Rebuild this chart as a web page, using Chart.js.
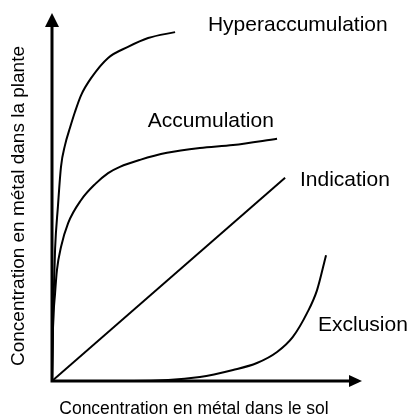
<!DOCTYPE html>
<html>
<head>
<meta charset="utf-8">
<script src="https://cdn.jsdelivr.net/npm/chart.js@4.4.1/dist/chart.umd.min.js"></script>
<style>
  html, body { margin: 0; padding: 0; background: #fff; }
</style>
</head>
<body>
<canvas id="chart" width="414" height="416"></canvas>
<script>
// values (arbitrary units, 0..100 on both axes)
const hyperX = [0, 0.5, 1.0, 1.9, 2.9, 4.2, 5.8, 7.4, 9.4, 12.6, 18.1, 24.5, 31.0, 39.7];
const hyperY = [0, 22, 36, 47.3, 58.2, 64.1, 68.8, 73.1, 77.7, 82.3, 87.8, 90.8, 93.2, 94.8];

const accumX = [0, 0.3, 1.0, 1.6, 2.9, 5.2, 9.4, 13.9, 18.1, 21.9, 28.4, 37.1, 47.7, 58.4, 72.6];
const accumY = [0, 13.9, 23.9, 30.2, 36.4, 42.9, 49.2, 53.5, 56.5, 58.2, 60.1, 62.0, 63.3, 64.1, 65.8];

const indicX = [0, 75.2];
const indicY = [0, 55.2];

const exclX = [0, 26.1, 47.7, 58.4, 66.1, 72.6, 77.7, 82.3, 85.5, 88.4];
const exclY = [0, 0, 1.1, 3.0, 4.9, 7.9, 12.0, 18.5, 24.7, 34.2];

const curveNames = ["Hyperaccumulation", "Accumulation", "Indication", "Exclusion"];
const xTitle = "Concentration en métal dans le sol";
const yTitle = "Concentration en métal dans la plante";

const toPoints = (xs, ys) => xs.map((x, i) => ({ x: x, y: ys[i] }));

const curve = (name, xs, ys) => ({
    label: name,
    data: toPoints(xs, ys),
    showLine: true,
    borderColor: "#000",
    borderWidth: 2,
    pointRadius: 0,
    cubicInterpolationMode: "monotone",
    fill: false,
});

// axes with arrow heads + curve labels + axis titles
const sketchPlugin = {
    id: "sketch",
    afterDatasetsDraw(chart) {
        const ctx = chart.ctx;
        const xs = chart.scales.x, ys = chart.scales.y;
        const x0 = xs.getPixelForValue(0), y0 = ys.getPixelForValue(0);
        const xEnd = xs.getPixelForValue(100), yEnd = ys.getPixelForValue(100);
        ctx.save();
        ctx.strokeStyle = "#000";
        ctx.fillStyle = "#000";
        ctx.lineWidth = 3;
        ctx.lineCap = "butt";
        ctx.beginPath();
        ctx.moveTo(x0, y0 + 1.5);
        ctx.lineTo(x0, yEnd + 12);
        ctx.moveTo(x0 - 1.5, y0);
        ctx.lineTo(xEnd - 12, y0);
        ctx.stroke();
        // y arrow
        ctx.beginPath();
        ctx.moveTo(x0, yEnd);
        ctx.lineTo(x0 - 7, yEnd + 14);
        ctx.lineTo(x0 + 7, yEnd + 14);
        ctx.closePath();
        ctx.fill();
        // x arrow
        ctx.beginPath();
        ctx.moveTo(xEnd, y0);
        ctx.lineTo(xEnd - 13, y0 - 6);
        ctx.lineTo(xEnd - 13, y0 + 6);
        ctx.closePath();
        ctx.fill();

        // curve labels, anchored in data units
        const anchors = chart.options.plugins.sketch.anchors;
        ctx.font = "21px 'Liberation Sans', Arial, sans-serif";
        ctx.textAlign = "left";
        ctx.textBaseline = "alphabetic";
        curveNames.forEach((name, i) => {
            const a = anchors[i];
            ctx.fillText(name, xs.getPixelForValue(a[0]), ys.getPixelForValue(a[1]));
        });

        // axis titles
        ctx.textAlign = "center";
        ctx.font = "17.5px 'Liberation Sans', Arial, sans-serif";
        ctx.fillText(xTitle, 194, 414);
        ctx.font = "19px 'Liberation Sans', Arial, sans-serif";
        ctx.translate(24, 206);
        ctx.rotate(-Math.PI / 2);
        ctx.fillText(yTitle, 0, 0);
        ctx.restore();
    },
};

const chart = new Chart(document.getElementById("chart"), {
    type: "scatter",
    data: {
        datasets: [
            curve(curveNames[0], hyperX, hyperY),
            curve(curveNames[1], accumX, accumY),
            curve(curveNames[2], indicX, indicY),
            curve(curveNames[3], exclX, exclY),
        ],
    },
    options: {
        responsive: false,
        animation: false,
        devicePixelRatio: 1,
        layout: { padding: { left: 52, right: 52, top: 13, bottom: 35 } },
        scales: {
            x: { type: "linear", min: 0, max: 100, display: false },
            y: { type: "linear", min: 0, max: 100, display: false },
        },
        plugins: {
            legend: { display: false },
            tooltip: { enabled: false },
            sketch: {
                anchors: [[50.3, 95.1], [30.9, 69.0], [80.0, 53.0], [85.8, 13.6]],
            },
        },
    },
    plugins: [sketchPlugin],
});
</script>
</body>
</html>
